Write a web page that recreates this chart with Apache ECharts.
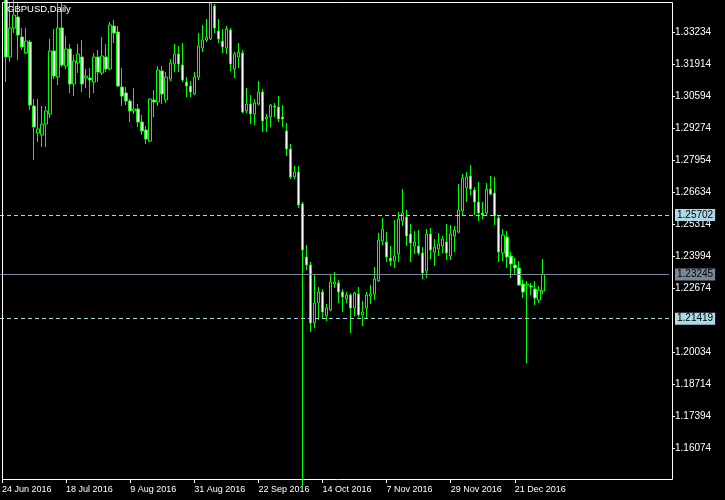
<!DOCTYPE html>
<html><head><meta charset="utf-8">
<script src="https://cdn.jsdelivr.net/npm/echarts@6.0.0/dist/echarts.min.js"></script>
<style>html,body{margin:0;padding:0;background:#000}#c{width:725px;height:500px}</style>
</head><body><div id="c"></div>
<script>
const symbolTitle = 'GBPUSD,Daily';
const xTickLabels = ['24 Jun 2016','18 Jul 2016','9 Aug 2016','31 Aug 2016','22 Sep 2016','14 Oct 2016','7 Nov 2016','29 Nov 2016','21 Dec 2016'];
const yTickLabels = [1.33234,1.31914,1.30594,1.29274,1.27954,1.26634,1.25314,1.23994,1.22674,1.20034,1.18714,1.17394,1.16074];
const levelUpper = 1.25702;
const levelLower = 1.21419;
const lastPrice = 1.23245;

const opens = [null,
1.3600,1.32214,1.33411,1.33864,1.33039,1.32379,1.32834,1.30193,1.29079,1.28997,
1.29450,1.29863,1.32462,1.31389,1.33411,1.31843,1.32544,1.31101,1.31967,1.32214,
1.31348,1.31348,1.31183,1.32214,1.31554,1.32214,1.31720,1.33493,1.33245,1.30977,
1.30729,1.30399,1.29987,1.30069,1.29532,1.29203,1.28749,1.30441,1.30358,1.31637,
1.30441,1.31307,1.31926,1.32338,1.31885,1.31183,1.31018,1.30688,1.31389,1.32586,
1.32916,1.32957,1.34318,1.33287,1.32875,1.32586,1.33328,1.31720,1.32214,1.32379,
1.29987,1.30276,1.29863,1.30276,1.30770,1.29656,1.29739,1.30193,1.30152,1.29739,
1.29162,1.28419,1.27264,1.27471,1.26151,1.23965,1.23635,1.21243,1.22067,1.22521,
1.21531,1.21778,1.22851,1.22892,1.22521,1.22232,1.22397,1.21861,1.22439,1.21572,
1.21861,1.22356,1.22439,1.22975,1.24625,1.24583,1.23924,1.23800,1.24088,1.25450,
1.25615,1.24913,1.24418,1.24418,1.24129,1.23387,1.24913,1.24170,1.24294,1.24418,
1.24583,1.24006,1.24831,1.24996,1.25862,1.26810,1.27306,1.26728,1.26233,1.25780,
1.25780,1.26769,1.26604,1.25574,1.24129,1.24790,1.24006,1.23635,1.23511,1.22851,
1.22810,1.22768,1.22645,1.22191,1.22562];

const closes = [null,
1.32214,1.33411,1.33947,1.33122,1.32627,1.32875,1.30235,1.29326,1.29244,1.29450,
1.29987,1.32462,1.31430,1.33411,1.31885,1.32544,1.31101,1.32050,1.32338,1.31101,
1.31430,1.31266,1.32214,1.31595,1.32256,1.31720,1.33535,1.33204,1.31018,1.30605,
1.30399,1.29987,1.30069,1.29532,1.29162,1.28832,1.30482,1.30358,1.31678,1.30688,
1.31389,1.31967,1.32338,1.31926,1.31266,1.31018,1.30770,1.31389,1.32668,1.32916,
1.33039,1.34442,1.33411,1.32957,1.32627,1.33370,1.31926,1.32338,1.32420,1.29945,
1.30276,1.29863,1.30317,1.30770,1.29574,1.29739,1.30235,1.30152,1.29656,1.29656,
1.28419,1.27264,1.27471,1.26110,1.24253,1.23635,1.21243,1.22067,1.22521,1.21696,
1.21861,1.22933,1.22933,1.22521,1.22315,1.22397,1.21861,1.22480,1.21572,1.21696,
1.22397,1.22439,1.23057,1.24666,1.25120,1.23965,1.23800,1.24006,1.25532,1.25780,
1.24831,1.24542,1.24583,1.24129,1.23304,1.24913,1.24253,1.24377,1.24501,1.24707,
1.24129,1.24913,1.25078,1.25903,1.27223,1.27264,1.26769,1.26233,1.25780,1.25697,
1.26769,1.26563,1.25656,1.24170,1.24872,1.23965,1.23676,1.23511,1.22810,1.22521,
1.22851,1.22727,1.22274,1.22603,1.23245];

const lows = [null,
1.31183,1.32008,1.33204,1.32091,1.32503,1.32338,1.30028,1.27965,1.28707,1.28501,
1.28501,1.29698,1.31307,1.31060,1.31802,1.31720,1.30729,1.30605,1.31554,1.30770,
1.30936,1.30523,1.30729,1.31183,1.31472,1.31595,1.31678,1.32792,1.30977,1.30193,
1.30235,1.29532,1.29863,1.29326,1.28997,1.28625,1.28707,1.29739,1.30193,1.30276,
1.30317,1.31224,1.31595,1.31595,1.31183,1.30564,1.30564,1.30647,1.31266,1.32420,
1.32834,1.32916,1.33204,1.32792,1.32379,1.32338,1.31637,1.31348,1.31761,1.29904,
1.29904,1.29450,1.29409,1.30235,1.29120,1.29120,1.29326,1.29739,1.29532,1.29326,
1.28130,1.27182,1.27182,1.25986,1.14500,1.23428,1.20871,1.21036,1.21366,1.21407,
1.21325,1.21737,1.22686,1.22067,1.21696,1.22067,1.20830,1.21531,1.21490,1.21118,
1.21449,1.22026,1.22191,1.22933,1.24460,1.23758,1.23593,1.23511,1.23758,1.25243,
1.24418,1.23758,1.24088,1.24047,1.23057,1.23098,1.23882,1.23593,1.24006,1.24129,
1.23841,1.23841,1.24170,1.24955,1.25697,1.26233,1.26522,1.25697,1.25450,1.25532,
1.25656,1.26522,1.25285,1.23758,1.23800,1.23511,1.23098,1.23263,1.22768,1.22274,
1.19592,1.22397,1.21984,1.22067,1.22439];

const highs = [null,
1.3625,1.34483,1.3470,1.34442,1.33411,1.33411,1.32916,1.30482,1.30482,1.30193,
1.30193,1.32957,1.33370,1.34442,1.34442,1.33080,1.32751,1.32297,1.32751,1.32916,
1.31720,1.31761,1.32379,1.32503,1.33039,1.32751,1.33658,1.33741,1.33493,1.31761,
1.30977,1.30482,1.30936,1.30276,1.29822,1.29367,1.30523,1.30853,1.31843,1.31843,
1.31595,1.32132,1.32751,1.32668,1.32792,1.31389,1.31224,1.31595,1.33204,1.33535,
1.33782,1.34483,1.34401,1.33782,1.33370,1.33493,1.33411,1.32420,1.32792,1.32503,
1.30936,1.30647,1.30482,1.31224,1.30894,1.29863,1.30276,1.30317,1.30605,1.30235,
1.29491,1.28625,1.27718,1.27718,1.26233,1.24460,1.23758,1.23263,1.22727,1.22645,
1.22026,1.23263,1.23346,1.23016,1.22645,1.22521,1.22480,1.22521,1.22727,1.22149,
1.22521,1.22810,1.23552,1.24955,1.25574,1.24996,1.24418,1.25491,1.25821,1.26769,
1.25903,1.25326,1.25037,1.25078,1.24377,1.25120,1.25161,1.24707,1.24955,1.24831,
1.25326,1.25285,1.25243,1.26975,1.27388,1.27471,1.27759,1.26852,1.27058,1.26233,
1.27017,1.27306,1.27264,1.25697,1.25120,1.25037,1.24170,1.23924,1.23800,1.23016,
1.22975,1.22892,1.22975,1.22768,1.23882];

const slotCount = 167;
const months = ['Jan','Feb','Mar','Apr','May','Jun','Jul','Aug','Sep','Oct','Nov','Dec'];
const categories = [];
let d = new Date(Date.UTC(2016, 5, 24));
while (categories.length < slotCount) {
  const wd = d.getUTCDay();
  if (wd !== 0 && wd !== 6) categories.push(d.getUTCDate() + ' ' + months[d.getUTCMonth()] + ' ' + d.getUTCFullYear());
  d = new Date(d.getTime() + 86400000);
}
const candleData = categories.map((c, i) =>
  (i < opens.length && opens[i] != null) ? [opens[i], closes[i], lows[i], highs[i]] : '-');
const showTick = (i, v) => xTickLabels.indexOf(categories[i]) >= 0;

const chart = echarts.init(document.getElementById('c'), null, {renderer: 'canvas'});
const lvlLabel = (bg) => ({
  show: true, position: 'end', distance: 6,
  formatter: p => Number(p.value).toFixed(5),
  color: '#000', backgroundColor: bg, fontSize: 10, fontFamily: 'Liberation Sans',
  padding: [1, 2, 0, 2], lineHeight: 11
});
chart.setOption({
  animation: false,
  backgroundColor: '#000000',
  grid: {left: 0, right: 56, top: 2, height: 477, outerBoundsMode: 'none', containLabel: false},
  xAxis: {
    type: 'category', data: categories, boundaryGap: true,
    axisLine: {show: false},
    axisTick: {show: true, interval: showTick, alignWithLabel: true, length: 4, lineStyle: {color: '#fff'}},
    axisLabel: {show: true, interval: showTick, color: '#fff', fontSize: 9, fontFamily: 'Liberation Sans', align: 'left', margin: 6},
    splitLine: {show: false}
  },
  yAxis: {
    type: 'value', position: 'right', offset: 3, scale: true,
    min: 1.14807, max: 1.34484,
    axisLine: {show: false},
    splitLine: {show: false},
    axisTick: {show: true, customValues: yTickLabels, length: 3, lineStyle: {color: '#fff'}},
    axisLabel: {show: true, customValues: yTickLabels, color: '#fff', fontSize: 10, fontFamily: 'Liberation Sans', margin: 3,
      formatter: v => v.toFixed(5)}
  },
  graphic: [
    {type: 'rect', silent: true, z: 100, shape: {x: 2.5, y: 2.5, width: 670, height: 477},
     style: {fill: 'none', stroke: '#ffffff', lineWidth: 1}},
    {type: 'text', silent: true, z: 100, x: 7, y: 4,
     style: {text: symbolTitle, fill: '#ffffff', font: '9.5px "Liberation Sans"', textVerticalAlign: 'top'}}
  ],
  series: [{
    type: 'candlestick',
    data: candleData,
    barWidth: 3,
    clip: true,
    itemStyle: {color: '#000000', color0: '#ffffff', borderColor: '#00ff00', borderColor0: '#00ff00', borderWidth: 1},
    markLine: {
      silent: true, symbol: 'none', animation: false, precision: 5,
      data: [
        {yAxis: levelUpper, lineStyle: {color: '#add8e6', type: [4, 3], width: 1}, label: lvlLabel('#add8e6')},
        {yAxis: lastPrice, lineStyle: {color: '#778899', type: 'solid', width: 1}, label: lvlLabel('#778899')},
        {yAxis: levelLower, lineStyle: {color: '#add8e6', type: [4, 3], width: 1}, label: lvlLabel('#add8e6')}
      ]
    }
  }]
});
</script></body></html>
